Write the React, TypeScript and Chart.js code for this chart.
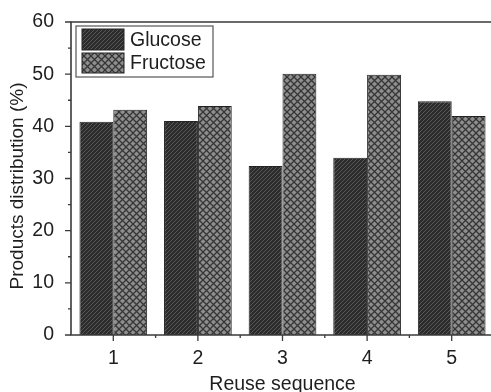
import React, { useEffect, useRef } from "react";
import { Chart, registerables } from "chart.js";

Chart.register(...registerables);

const categories = ["1", "2", "3", "4", "5"];
const glucose = [40.9, 41.0, 32.4, 34.0, 44.8];
const fructose = [43.2, 43.9, 50.1, 49.9, 42.0];
const seriesNames = ["Glucose", "Fructose"];
const yMin = 0;
const yMax = 60;
const yStep = 10;
const xTitle = "Reuse sequence";
const yTitle = "Products distribution (%)";

const FONT = "'Liberation Sans', Arial, sans-serif";
const FS = 19.5;
const AXIS_COLOR = "#3a3a3a";

function makeHatch(): CanvasPattern | string {
  const c = document.createElement("canvas");
  c.width = 4;
  c.height = 4;
  const g = c.getContext("2d");
  if (!g) return "#333";
  g.fillStyle = "#2c2c2c";
  g.fillRect(0, 0, 4, 4);
  g.strokeStyle = "#575757";
  g.lineWidth = 1;
  g.beginPath();
  g.moveTo(-1, 5);
  g.lineTo(5, -1);
  g.stroke();
  const p = g.createPattern(c, "repeat");
  return p || "#333";
}

function makeCross(): CanvasPattern | string {
  const s = 7;
  const c = document.createElement("canvas");
  c.width = s;
  c.height = s;
  const g = c.getContext("2d");
  if (!g) return "#888";
  g.fillStyle = "#8e8e8e";
  g.fillRect(0, 0, s, s);
  g.strokeStyle = "#363636";
  g.lineWidth = 1.3;
  g.beginPath();
  g.moveTo(0, 0);
  g.lineTo(s, s);
  g.moveTo(s, 0);
  g.lineTo(0, s);
  g.stroke();
  const p = g.createPattern(c, "repeat");
  return p || "#888";
}

const axesPlugin = {
  id: "axesPlugin",
  afterDraw(chart: any) {
    const { ctx, chartArea } = chart;
    const { left, right, top, bottom } = chartArea;
    const ys = chart.scales.y;
    const xs = chart.scales.x;
    ctx.save();
    ctx.strokeStyle = AXIS_COLOR;
    ctx.lineWidth = 1.6;
    ctx.beginPath();
    ctx.rect(left, top, right - left, bottom - top);
    ctx.stroke();
    ctx.lineWidth = 1.3;
    ctx.beginPath();
    for (let v = yMin; v <= yMax; v += yStep / 2) {
      const py = ys.getPixelForValue(v);
      const len = v % yStep === 0 ? 6 : 3;
      ctx.moveTo(left - len, py);
      ctx.lineTo(left, py);
    }
    const n = categories.length;
    for (let i = 0; i < n; i++) {
      const px = xs.getPixelForValue(i);
      ctx.moveTo(px, bottom);
      ctx.lineTo(px, bottom + 6);
      if (i < n - 1) {
        const pm = (px + xs.getPixelForValue(i + 1)) / 2;
        ctx.moveTo(pm, bottom);
        ctx.lineTo(pm, bottom + 3);
      }
    }
    ctx.stroke();

    // y-axis title
    ctx.save();
    ctx.translate(18, 186);
    ctx.rotate(-Math.PI / 2);
    ctx.fillStyle = "#1e1e1e";
    ctx.font = `19px ${FONT}`;
    ctx.textAlign = "center";
    ctx.textBaseline = "middle";
    ctx.fillText(yTitle, 0, 0);
    ctx.restore();

    // legend
    const lx = 76, ly = 26, lw = 137, lh = 51;
    ctx.fillStyle = "#ffffff";
    ctx.fillRect(lx, ly, lw, lh);
    ctx.lineWidth = 1.2;
    ctx.strokeStyle = "#555";
    ctx.strokeRect(lx, ly, lw, lh);
    const rows = [
      { y: 29, h: 21 },
      { y: 53, h: 20 },
    ];
    chart.data.datasets.forEach((ds: any, i: number) => {
      const r = rows[i];
      ctx.fillStyle = ds.backgroundColor;
      ctx.fillRect(82, r.y, 42, r.h);
      ctx.lineWidth = 1;
      ctx.strokeStyle = "#222";
      ctx.strokeRect(82, r.y, 42, r.h);
      ctx.fillStyle = "#1e1e1e";
      ctx.font = `${FS}px ${FONT}`;
      ctx.textBaseline = "middle";
      ctx.textAlign = "left";
      ctx.fillText(ds.label, 130, r.y + r.h / 2 + 1);
    });
    ctx.restore();
  },
};

export default function App() {
  const ref = useRef<HTMLCanvasElement | null>(null);
  useEffect(() => {
    if (!ref.current) return;
    const chart = new Chart(ref.current, {
      type: "bar",
      data: {
        labels: categories,
        datasets: [
          {
            label: seriesNames[0],
            data: glucose,
            backgroundColor: makeHatch() as any,
            borderColor: "#222",
            borderWidth: 1,
            categoryPercentage: 0.8,
            barPercentage: 1.0,
          },
          {
            label: seriesNames[1],
            data: fructose,
            backgroundColor: makeCross() as any,
            borderColor: "#222",
            borderWidth: 1,
            categoryPercentage: 0.8,
            barPercentage: 1.0,
          },
        ],
      },
      options: {
        responsive: false,
        animation: false,
        devicePixelRatio: 1,
        layout: { padding: { top: 22, right: 6, left: 0, bottom: 0 } },
        plugins: {
          legend: { display: false },
          tooltip: { enabled: false },
        },
        scales: {
          x: {
            type: "category",
            offset: true,
            grid: { display: false },
            border: { display: false },
            ticks: {
              color: "#1e1e1e",
              font: { family: FONT, size: FS },
              padding: 4,
              maxRotation: 0,
            },
            title: {
              display: true,
              text: xTitle,
              color: "#1e1e1e",
              font: { family: FONT, size: FS },
              padding: { top: 0, bottom: 4 },
            },
            afterFit(scale: any) {
              scale.height = 65;
            },
          },
          y: {
            min: yMin,
            max: yMax,
            grid: { display: false },
            border: { display: false },
            ticks: {
              stepSize: yStep,
              color: "#1e1e1e",
              font: { family: FONT, size: FS },
              padding: 9,
            },
            title: { display: false, text: yTitle },
            afterFit(scale: any) {
              scale.width = 71;
            },
          },
        },
      },
      plugins: [axesPlugin],
    });
    return () => chart.destroy();
  }, []);
  return (
    <div
      style={{
        position: "fixed",
        left: 0,
        top: 0,
        width: 491,
        height: 392,
        overflow: "hidden",
        background: "#fff",
      }}
    >
      <canvas
        ref={ref}
        width={500}
        height={400}
        style={{ width: 500, height: 400, display: "block" }}
      />
    </div>
  );
}
